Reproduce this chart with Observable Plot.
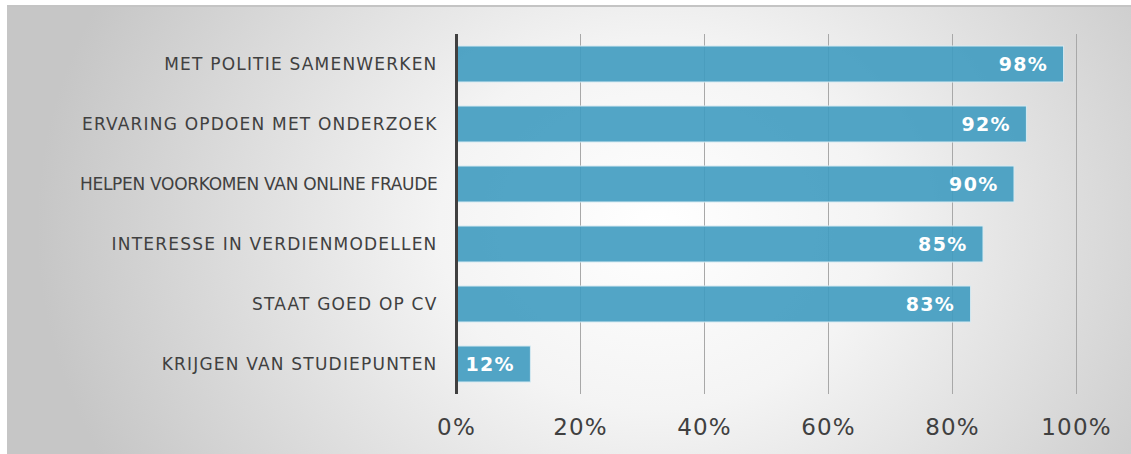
<!DOCTYPE html>
<html>
<head>
<meta charset="utf-8">
<script src="https://cdn.jsdelivr.net/npm/d3@7"></script>
<script src="https://cdn.jsdelivr.net/npm/@observablehq/plot@0.6"></script>
<style>
  html, body { margin: 0; padding: 0; background: #ffffff; }
  #wrap { position: relative; width: 1131px; height: 454px; overflow: hidden; }
  #bg {
    position: absolute; left: 7px; top: 5px; width: 1124px; height: 449px;
    border-top: 2px solid #c4c4c4; box-sizing: border-box;
    background: radial-gradient(ellipse 620px 520px at 650px 220px, #ffffff 0%, #f4f4f4 35%, #c6c6c6 100%);
  }
  #chart { position: absolute; left: 0; top: 0; }
  #chart g[aria-label="y-axis tick label"] text { letter-spacing: 1.2px; }
  #chart g[aria-label="y-axis tick label"] text.tight { letter-spacing: -0.3px; }
  #chart g[aria-label="x-axis tick label"] text { letter-spacing: 1.2px; }
  #chart g[aria-label="text"] text { letter-spacing: 1.3px; }
</style>
</head>
<body>
<div id="wrap"><div id="bg"></div><div id="chart"></div></div>
<script>
const categories = [
  "MET POLITIE SAMENWERKEN",
  "ERVARING OPDOEN MET ONDERZOEK",
  "HELPEN VOORKOMEN VAN ONLINE FRAUDE",
  "INTERESSE IN VERDIENMODELLEN",
  "STAAT GOED OP CV",
  "KRIJGEN VAN STUDIEPUNTEN"
];
const values = [98, 92, 90, 85, 83, 12];
const xTicks = [0, 20, 40, 60, 80, 100];

const data = categories.map((c, i) => ({label: c, value: values[i]}));

const chart = Plot.plot({
  width: 1131,
  height: 454,
  marginLeft: 456,
  marginRight: 55,
  marginTop: 34,
  marginBottom: 60,
  style: {background: "transparent", fontFamily: "'DejaVu Sans', Verdana, sans-serif"},
  x: {domain: [0, 100]},
  y: {domain: categories, paddingInner: 0.4, paddingOuter: 0.2},
  marks: [
    Plot.ruleX(xTicks.slice(1), {stroke: "#a8a8a8", strokeWidth: 1}),
    Plot.barX(data, {x: "value", y: "label", fill: "#3f9bc0", fillOpacity: 0.9, stroke: "#d6eaf2", strokeWidth: 1}),
    Plot.text(data, {x: "value", y: "label", text: d => d.value + "%", textAnchor: "end", dx: -16, fill: "white", fontWeight: "bold", fontSize: 19}),
    Plot.ruleX([0], {stroke: "#404040", strokeWidth: 3}),
    Plot.axisY({tickSize: 0, tickPadding: 19, fontSize: 17, fill: "#404040", label: null}),
    Plot.axisX({ticks: xTicks, tickFormat: d => d + "%", tickSize: 0, tickPadding: 24, fontSize: 23, fill: "#404040", label: null})
  ]
});
d3.select(chart).selectAll('g[aria-label="y-axis tick label"] text')
  .filter(function() { return this.textContent === categories[2]; })
  .classed("tight", true);
document.getElementById("chart").appendChild(chart);
</script>
</body>
</html>
